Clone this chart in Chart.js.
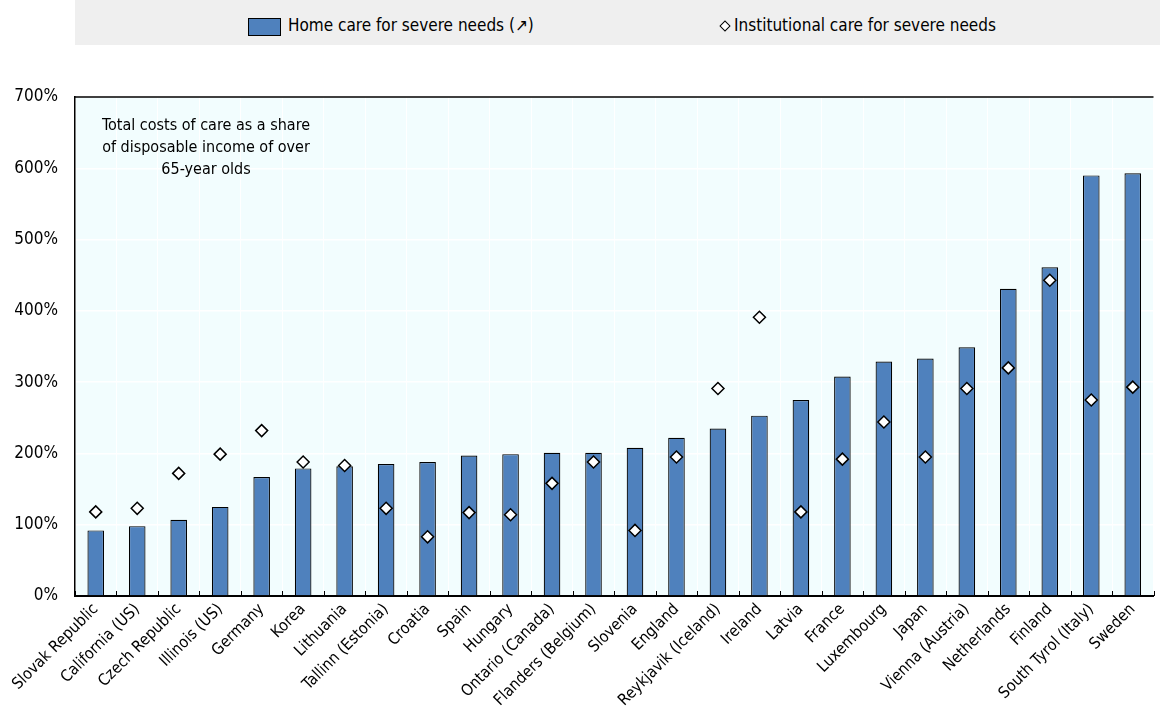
<!DOCTYPE html>
<html>
<head>
<meta charset="utf-8">
<script src="https://cdn.jsdelivr.net/npm/chart.js@4/dist/chart.umd.min.js"></script>
<style>
  body { margin: 0; background: #fff; font-family: 'Liberation Sans Narrow', 'Arial Narrow', 'DejaVu Sans Condensed', sans-serif; }
  #wrap { position: relative; width: 1161px; height: 708px; }
  #legend {
    position: absolute; left: 75px; top: 0; width: 1085px; height: 45px;
    background: #efefef; font-size: 17px; color: #000;
  }
  .item { position: absolute; top: 15px; white-space: nowrap; }
  .box { position: absolute; left: 173px; top: 18px; width: 31px; height: 16px; background: #4f81bd; border: 1px solid #000; }
  .dia { position: absolute; left: 646px; top: 22px; width: 6px; height: 6px; background: #fff; border: 1.3px solid #000; transform: rotate(45deg); }
</style>
</head>
<body>
<div id="wrap">
  <div id="legend">
    <span class="box"></span>
    <span class="item" style="left:213px">Home care for severe needs (↗)</span>
    <span class="dia"></span>
    <span class="item" style="left:659px">Institutional care for severe needs</span>
  </div>
  <canvas id="chart" width="1161" height="708"></canvas>
</div>
<script>
// 类别（国家/地区）
const categories = [
    'Slovak Republic', 'California (US)', 'Czech Republic', 'Illinois (US)', 'Germany',
    'Korea', 'Lithuania', 'Tallinn (Estonia)', 'Croatia', 'Spain', 'Hungary',
    'Ontario (Canada)', 'Flanders (Belgium)', 'Slovenia', 'England', 'Reykjavik (Iceland)',
    'Ireland', 'Latvia', 'France', 'Luxembourg', 'Japan', 'Vienna (Austria)',
    'Netherlands', 'Finland', 'South Tyrol (Italy)', 'Sweden'
];

// 居家护理（%）
const homeCare = [
    92, 98, 107, 125, 167, 179, 182, 185, 188, 197, 199, 201, 201,
    208, 222, 235, 253, 275, 308, 329, 333, 349, 431, 461, 590, 593
];

// 机构护理（%）
const institutionalCare = [
    118, 123, 172, 199, 232, 188, 183, 123, 83, 117, 114, 158, 188,
    92, 195, 291, 391, 118, 192, 244, 195, 291, 320, 443, 275, 293
];

// Y轴刻度
const yTicks = [0, 100, 200, 300, 400, 500, 600, 700];

const FONT = "'Liberation Sans Narrow', 'Arial Narrow', 'DejaVu Sans Condensed', sans-serif";

// 绘图区背景、顶部边框、内向刻度和注释文字
const plotDecor = {
    id: 'plotDecor',
    beforeDraw(chart) {
        const { ctx, chartArea: a } = chart;
        ctx.save();
        ctx.fillStyle = '#f2fdfe';
        ctx.fillRect(a.left, a.top, a.right - a.left, a.bottom - a.top);
        ctx.restore();
    },
    afterDatasetsDraw(chart) {
        const { ctx, chartArea: a } = chart;
        const x = chart.scales.x;
        ctx.save();
        ctx.strokeStyle = '#000';
        ctx.lineWidth = 1.5;
        ctx.beginPath();
        ctx.moveTo(a.left, a.top);
        ctx.lineTo(a.right, a.top);
        ctx.stroke();
        // 类别之间的内向刻度
        const half = (x.getPixelForValue(1) - x.getPixelForValue(0)) / 2;
        ctx.lineWidth = 1;
        ctx.beginPath();
        for (let i = 0; i <= categories.length; i++) {
            const px = Math.round(x.getPixelForValue(i) - half) + 0.5;
            ctx.moveTo(px, a.bottom);
            ctx.lineTo(px, a.bottom - 5);
        }
        ctx.stroke();
        // 注释
        ctx.fillStyle = '#000';
        ctx.font = '16px ' + FONT;
        ctx.textAlign = 'center';
        ctx.textBaseline = 'middle';
        const cx = a.left + 131;
        ['Total costs of care as a share', 'of disposable income of over', '65-year olds']
            .forEach((t, i) => ctx.fillText(t, cx, a.top + 29 + i * 22));
        ctx.restore();
    }
};

new Chart(document.getElementById('chart'), {
    type: 'bar',
    data: {
        labels: categories,
        datasets: [
            {
                type: 'line',
                label: 'Institutional care for severe needs',
                data: institutionalCare,
                showLine: false,
                pointStyle: 'rectRot',
                pointRadius: 6,
                pointBackgroundColor: '#fff',
                pointBorderColor: '#000',
                pointBorderWidth: 1.5,
                order: 0
            },
            {
                label: 'Home care for severe needs (↗)',
                data: homeCare,
                backgroundColor: '#4f81bd',
                borderColor: '#000',
                borderWidth: 1.2,
                borderSkipped: 'bottom',
                categoryPercentage: 1,
                barPercentage: 0.4,
                order: 1
            }
        ]
    },
    options: {
        responsive: false,
        animation: false,
        layout: { padding: { top: 97, right: 1, left: 0, bottom: 0 } },
        plugins: { legend: { display: false }, tooltip: { enabled: false } },
        scales: {
            x: {
                grid: { color: '#ffffff', lineWidth: 1, drawTicks: false, offset: true },
                border: { color: '#000', width: 2 },
                ticks: {
                    color: '#000',
                    font: { family: FONT, size: 16 },
                    maxRotation: 45, minRotation: 45,
                    autoSkip: false, padding: 4
                },
                afterFit(scale) { scale.height = 112; }
            },
            y: {
                min: 0, max: 700,
                afterBuildTicks(scale) { scale.ticks = yTicks.map(v => ({ value: v })); },
                grid: { color: '#ffffff', lineWidth: 1.5, drawTicks: false },
                border: { color: '#000', width: 1.5 },
                ticks: {
                    color: '#000',
                    font: { family: FONT, size: 17 },
                    padding: 17,
                    callback: v => v + '%'
                },
                afterFit(scale) { scale.width = 75; }
            }
        }
    },
    plugins: [plotDecor]
});
</script>
</body>
</html>
